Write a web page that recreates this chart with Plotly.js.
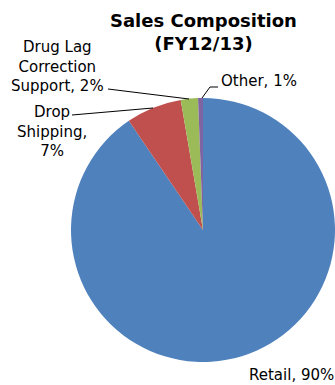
<!DOCTYPE html>
<html><head><meta charset="utf-8">
<script src="https://cdn.plot.ly/plotly-3.0.1.min.js"></script>
<style>html,body{margin:0;padding:0;background:#fff;}#c{width:335px;height:385px;}</style>
</head><body><div id="c"></div>
<script>
const categories = ["Retail", "Drop Shipping", "Drug Lag Correction Support", "Other"];
const shares = [90.5, 6.8, 2.1, 0.6];
const pctLabels = ["90%", "7%", "2%", "1%"];
const labelLines = [["Retail, "], ["Drop", "Shipping,", ""], ["Drug Lag", "Correction", "Support, "], ["Other, "]];
const colors = ["#4F81BD", "#C0504D", "#9BBB59", "#8064A2"];

const W = 335, H = 385;
const px = x => x / W, py = y => 1 - y / H;
const font = {family: "DejaVu Sans", size: 15, color: "#000"};

function labelText(i) {
  const l = labelLines[i].slice();
  const last = l.length - 1;
  l[last] = l[last] + pctLabels[i];
  return l.join("<br>");
}

const labelPos = [[291, 375], [52, 131], [57, 67], [259, 81]];
const annotations = labelPos.map((p, i) => ({
  x: px(p[0]), y: py(p[1]), xref: "paper", yref: "paper",
  text: labelText(i), showarrow: false, align: "center",
  xanchor: "center", yanchor: "middle", font: font
}));
annotations.push({
  x: px(203), y: py(32), xref: "paper", yref: "paper",
  text: "<b>Sales Composition<br>(FY12/13)</b>", showarrow: false,
  xanchor: "center", yanchor: "middle",
  font: {family: "DejaVu Sans", size: 18, color: "#000"}
});

const leaders = [
  [[72, 115], [153, 108]],
  [[108, 89], [189, 99]],
  [[218, 87], [210, 87], [202, 98]]
];
const shapes = leaders.map(pts => ({
  type: "path", xref: "paper", yref: "paper",
  path: pts.map((p, k) => (k ? "L" : "M") + px(p[0]) + "," + py(p[1])).join(" "),
  line: {color: "#000", width: 1}
}));

Plotly.newPlot("c", [{
  type: "pie", labels: categories, values: shares, sort: false,
  direction: "clockwise", rotation: 0, textinfo: "none", hoverinfo: "none",
  marker: {colors: colors, line: {color: "#fff", width: 0}},
  domain: {x: [px(71), 1], y: [py(362), py(98)]}
}], {
  width: W, height: H, margin: {l: 0, r: 0, t: 0, b: 0},
  showlegend: false, paper_bgcolor: "#fff",
  annotations: annotations, shapes: shapes
}, {staticPlot: true});
</script></body></html>
